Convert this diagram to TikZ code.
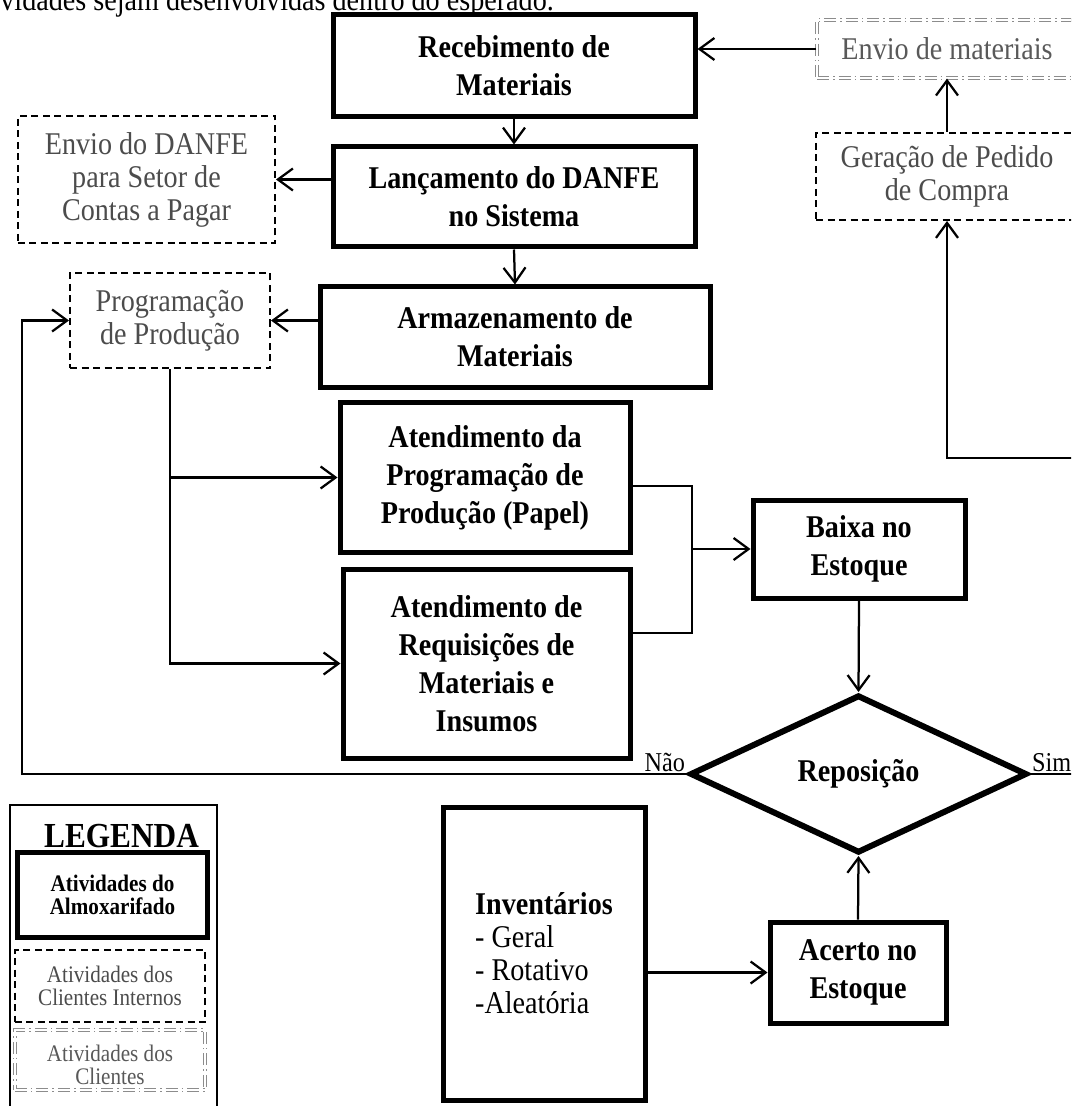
\documentclass[tikz,border=0pt]{standalone}
\usepackage{fontspec}
\setmainfont{Liberation Serif}[FakeStretch=0.89]
\usetikzlibrary{arrows.meta,shapes.geometric}

\tikzset{
  almox/.style={draw, line width=1mm, align=center, inner sep=0pt, font=\fontsize{18}{21.6}\selectfont\bfseries},
  interno/.style={draw, dash pattern=on 1.4mm off 0.9mm, line width=0.4mm, align=center, inner sep=0pt, text=black!70, font=\fontsize{18}{18.8}\selectfont},
  externo/.style={draw=black!45, double, double distance=0.3mm, line width=0.25mm, dash pattern=on 2.4mm off 0.8mm on 0.3mm off 0.8mm, align=center, inner sep=0pt, text=black!65, font=\fontsize{18}{18.8}\selectfont},
  seta/.style={-{Straight Barb[length=3mm,width=4.4mm]}, line width=0.45mm},
  liga/.style={line width=0.45mm}
}

\begin{document}
\begin{tikzpicture}[x=0.2mm, y=-0.2mm]
\useasboundingbox (0,0) rectangle (1071,1106);
\fill[white] (0,0) rectangle (1071,1106);
\clip (0,0) rectangle (1071,1106);

\node[anchor=base west, inner sep=0pt, font=\fontsize{18}{18.8}\selectfont] (frase) at (0,11) {vidades sejam desenvolvidas dentro do esperado.};

\node[almox, minimum width=72.4mm, minimum height=20.4mm] (receb) at (514,66) {Recebimento de\\Materiais};
\node[almox, minimum width=72.4mm, minimum height=20mm] (lanca) at (514,197) {Lançamento do DANFE\\no Sistema};
\node[almox, minimum width=78mm, minimum height=20mm] (armaz) at (515,337) {Armazenamento de\\Materiais};
\node[almox, minimum width=58mm, minimum height=29.8mm] (atprog) at (485,477.5) {Atendimento da\\Programação de\\Produção (Papel)};
\node[almox, minimum width=57.4mm, minimum height=37.8mm] (atreq) at (486.5,663.5) {Atendimento de\\Requisições de\\Materiais e\\Insumos};
\node[almox, minimum width=42.4mm, minimum height=19.6mm] (baixa) at (859,549) {Baixa no\\Estoque};
\node[almox, shape=diamond, line width=1.2mm, minimum width=67.4mm, minimum height=31.6mm] (repos) at (858.5,774) {Reposição};
\node[almox, minimum width=35.2mm, minimum height=20.2mm] (acerto) at (858,972.5) {Acerto no\\Estoque};
\node[almox, align=left, minimum width=40.4mm, minimum height=58.6mm, font=\fontsize{18}{18.8}\selectfont] (invent) at (544,953.5) {\textbf{Inventários}\\- Geral\\- Rotativo\\-Aleatória};

\node[interno, minimum width=51.4mm, minimum height=25.4mm] (danfe) at (146.5,179.5) {Envio do DANFE\\para Setor de\\Contas a Pagar};
\node[interno, minimum width=40mm, minimum height=19mm] (progr) at (170,320.5) {Programação\\de Produção};
\node[interno, minimum width=52.4mm, minimum height=17.4mm] (pedido) at (947,176.5) {Geração de Pedido\\de Compra};
\node[externo, minimum width=52mm, minimum height=11.6mm] (envmat) at (947,49) {Envio de materiais};

\coordinate (volta) at (22,774);
\coordinate (saisim) at (1100,774);
\coordinate (entra) at (1100,458);
\coordinate (jcima) at (692,486);
\coordinate (jbaixo) at (692,633);

\draw[seta] (envmat.west) -- (envmat.west -| receb.east);
\draw[seta] (receb.south) -- (lanca.north);
\draw[seta] (lanca.west |- danfe.east) -- (danfe.east);
\draw[seta] (lanca.south) -- (armaz.north);
\draw[seta] (armaz.west |- progr.east) -- (progr.east);
\draw[seta] (progr.south) |- (atreq.west);
\draw[seta] (progr.south |- atprog.west) -- (atprog.west);
\draw[liga] (jcima -| atprog.east) -- (jcima) -- (jbaixo) -- (jbaixo -| atreq.east);
\draw[seta] (jcima |- baixa.west) -- (baixa.west);
\draw[seta] (baixa.south) -- (repos.north);
\draw[seta] (acerto.north) -- (repos.south);
\draw[seta] (invent.east |- acerto.west) -- (acerto.west);
\draw[seta] (repos.west) -- (volta) |- (progr.west);
\draw[liga] (repos.east) -- (saisim);
\draw[seta] (entra) -| (pedido.south);
\draw[seta] (pedido.north) -- (envmat.south);

\node[anchor=south east, inner sep=1pt, font=\fontsize{15.5}{17}\selectfont] (nao) at (repos.west) {Não};
\node[anchor=south west, inner sep=1pt, font=\fontsize{15.5}{17}\selectfont] (sim) at (repos.east) {Sim};

\node[draw, line width=0.5mm, minimum width=41.4mm, minimum height=65mm] (legenda) at (113.5,967.5) {};
\node[inner sep=0pt, font=\fontsize{20}{22}\selectfont\bfseries] (legtit) at (121.5,836) {LEGENDA};
\node[almox, minimum width=37.8mm, minimum height=17mm, font=\fontsize{13.5}{13.1}\selectfont\bfseries] (legalm) at (112.5,895) {Atividades do\\Almoxarifado};
\node[interno, minimum width=38mm, minimum height=14.4mm, font=\fontsize{13.5}{13.1}\selectfont] (legint) at (110,986) {Atividades dos\\Clientes Internos};
\node[externo, minimum width=38mm, minimum height=12mm, text height=10mm, font=\fontsize{13.5}{13.1}\selectfont] (legext) at (110,1060) {Atividades dos\\Clientes};

\end{tikzpicture}
\end{document}
